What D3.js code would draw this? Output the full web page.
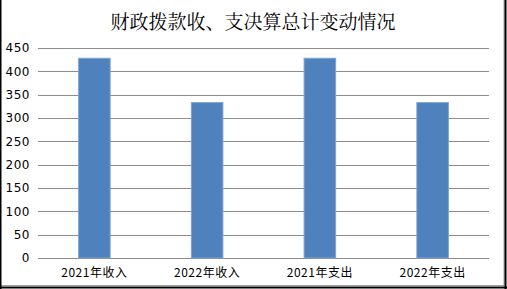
<!DOCTYPE html>
<html>
<head>
<meta charset="utf-8">
<script src="https://cdn.jsdelivr.net/npm/d3@7"></script>
<style>
  body { margin: 0; background: #fff; }
  svg { display: block; }
</style>
</head>
<body>
<div id="chart"></div>
<script>
// chart data
const categories = ["2021年收入", "2022年收入", "2021年支出", "2022年支出"];
const values = [428, 333, 428, 333];
const yTicks = [0, 50, 100, 150, 200, 250, 300, 350, 400, 450];
const title = "财政拨款收、支决算总计变动情况";

const W = 507, H = 289;
const margin = { top: 48, right: 18, bottom: 31, left: 38 },
    width = W - margin.left - margin.right,
    height = H - margin.top - margin.bottom;

const root = d3.select("#chart").append("svg")
    .attr("width", W)
    .attr("height", H);

// frame: gray box with black shadow on left / right / bottom
root.append("rect").attr("x", 0).attr("y", 0).attr("width", W).attr("height", H).attr("fill", "#fff");
root.append("rect").attr("x", 0.5).attr("y", -1).attr("width", 503.5).attr("height", 286.5)
    .attr("fill", "none").attr("stroke", "#a0a0a0");
root.append("line").attr("x1", 0.5).attr("x2", 0.5).attr("y1", 0).attr("y2", H).attr("stroke", "#000").attr("stroke-width", 2);
root.append("line").attr("x1", 505.5).attr("x2", 505.5).attr("y1", 0).attr("y2", H).attr("stroke", "#000").attr("stroke-width", 2);
root.append("line").attr("x1", 0).attr("x2", W).attr("y1", 287.5).attr("y2", 287.5).attr("stroke", "#000").attr("stroke-width", 2);

root.append("text")
    .attr("x", 253).attr("y", 29)
    .attr("text-anchor", "middle")
    .style("font-family", "'Noto Serif CJK SC', 'Noto Sans CJK SC', serif")
    .style("font-size", "19px")
    .attr("fill", "#000")
    .text(title);

const svg = root.append("g")
    .attr("transform", `translate(${margin.left}, ${margin.top})`);

const x = d3.scaleBand()
    .domain(categories)
    .range([0, width])
    .paddingInner(0.72)
    .paddingOuter(0.36);

const y = d3.scaleLinear()
    .domain([0, 450])
    .range([height, 0]);

// gridlines
svg.append("g")
    .selectAll("line")
    .data(yTicks)
    .join("line")
    .attr("x1", 0)
    .attr("x2", width)
    .attr("y1", d => Math.round(y(d)) + 0.5)
    .attr("y2", d => Math.round(y(d)) + 0.5)
    .attr("stroke", "#8c8c8c")
    .attr("stroke-width", 1);

// y labels
svg.append("g")
    .selectAll("text")
    .data(yTicks)
    .join("text")
    .attr("x", -8)
    .attr("y", d => y(d))
    .attr("dy", "0.35em")
    .attr("text-anchor", "end")
    .style("font-family", "'DejaVu Sans', sans-serif")
    .style("font-size", "12px")
    .style("letter-spacing", "0.5px")
    .attr("fill", "#000")
    .text(d => d);

// bars
svg.append("g")
    .selectAll("rect")
    .data(values)
    .join("rect")
    .attr("x", (d, i) => x(categories[i]))
    .attr("y", d => y(d))
    .attr("width", x.bandwidth())
    .attr("height", d => height - y(d))
    .attr("fill", "#4f81bd")
    .attr("stroke", "#7fa3d1")
    .attr("stroke-width", 1);

// category labels
svg.append("g")
    .selectAll("text")
    .data(categories)
    .join("text")
    .attr("x", d => x(d) + x.bandwidth() / 2)
    .attr("y", height + 19)
    .attr("text-anchor", "middle")
    .style("font-family", "'Noto Sans CJK SC', sans-serif")
    .style("font-size", "12px")
    .style("letter-spacing", "0.5px")
    .attr("fill", "#000")
    .text(d => d);
</script>
</body>
</html>
